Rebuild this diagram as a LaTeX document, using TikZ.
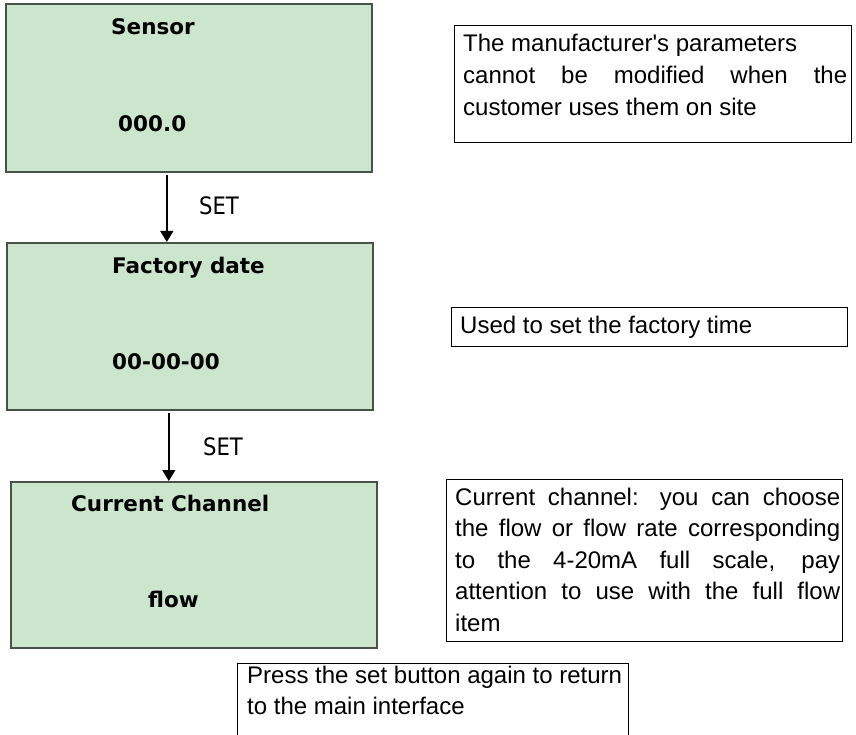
\documentclass[tikz,border=0pt]{standalone}
\usepackage{fontspec}
\setmainfont{Liberation Sans}[Ligatures=TeXOff]
\newfontfamily\titlefont{DejaVu Sans}
\newfontfamily\setlabelfont{DejaVu Sans}[FakeStretch=0.88]
\usetikzlibrary{arrows.meta}

\definecolor{screenfill}{RGB}{204,229,205}
\definecolor{screenedge}{RGB}{72,82,72}

\begin{document}
\begin{tikzpicture}[x=1pt,y=-1pt,
  screen/.style={draw=screenedge, fill=screenfill, line width=1.6pt,
    inner sep=0pt, anchor=north west, minimum width=366pt},
  title/.style={anchor=base west, inner sep=0pt,
    font=\titlefont\bfseries\fontsize{21.5}{26}\selectfont},
  setlabel/.style={anchor=base west, inner sep=0pt,
    font=\setlabelfont\fontsize{24}{28}\selectfont},
  notebox/.style={draw=black, line width=1.3pt, inner sep=0pt,
    anchor=north west},
  notetext/.style={anchor=base west, inner sep=0pt,
    font=\fontsize{24}{31.6}\selectfont},
  flowarrow/.style={draw=black, line width=1.4pt,
    -{Triangle[length=11pt,width=13pt]}}]

\useasboundingbox (0,0) rectangle (856,735);
\clip (0,0) rectangle (856,735);

% menu screens
\node[screen, minimum height=168pt] (sensor)  at (5,3)   {};
\node[screen, minimum height=167pt] (factory) at (6,242) {};
\node[screen, minimum height=166pt] (channel) at (10,481) {};

\node[title] (sensortitle)  at (111,35)  {Sensor};
\node[title] (sensorvalue)  at (118,131.5) {000.0};
\node[title] (factorytitle) at (112,273) {Factory date};
\node[title] (factoryvalue) at (112,369) {00-00-00};
\node[title] (channeltitle) at (71,511)  {Current Channel};
\node[title] (channelvalue) at (148,607.5) {flow};

% SET transitions
\coordinate (t1) at ([xshift=-22pt,yshift=-2pt]sensor.south);
\coordinate (t2) at ([xshift=-21pt,yshift=-2pt]factory.south);
\draw[flowarrow] (t1) -- (t1 |- factory.north);
\draw[flowarrow] (t2) -- (t2 |- channel.north);
\node[setlabel] (set1) at (199,215) {SET};
\node[setlabel] (set2) at (203,455.5) {SET};

% explanatory notes
\node[notebox, minimum width=397pt, minimum height=117pt] (noteA) at (454,25) {};
\node[notetext] (noteAtext) at (463,52) {\parbox[t]{384pt}{%
  The manufacturer's parameters\\
  \makebox[\linewidth][s]{cannot be modified when the}\\
  customer uses them on site}};

\node[notebox, minimum width=396pt, minimum height=39pt] (noteB) at (451,307) {};
\node[notetext] (noteBtext) at (460,333) {Used to set the factory time};

\node[notebox, minimum width=396pt, minimum height=162pt] (noteC) at (446,479) {};
\node[notetext] (noteCtext) at (455,505) {\parbox[t]{385pt}{%
  \makebox[\linewidth][s]{Current channel: you can choose}\\
  \makebox[\linewidth][s]{the flow or flow rate corresponding}\\
  \makebox[\linewidth][s]{to the 4-20mA full scale, pay}\\
  \makebox[\linewidth][s]{attention to use with the full flow}\\
  item}};

\node[notebox, minimum width=391pt, minimum height=110pt] (noteD) at (237,663) {};
\node[notetext] (noteDtext) at (247,683) {\parbox[t]{380pt}{%
  Press the set button again to return\\
  to the main interface}};

\end{tikzpicture}
\end{document}
